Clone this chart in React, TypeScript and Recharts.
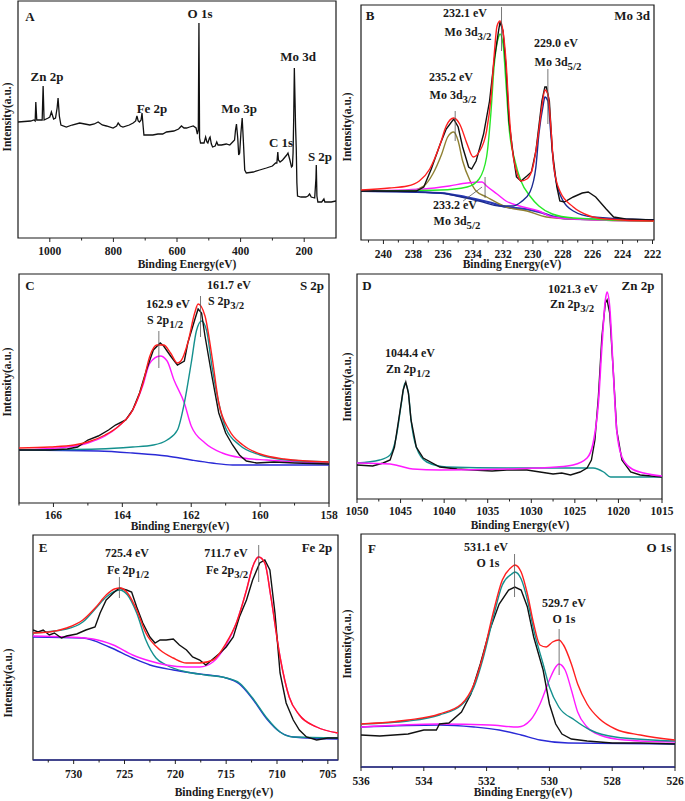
import React from 'react';
import { LineChart, Line, XAxis, YAxis, ReferenceArea, ReferenceLine } from 'recharts';

type Pt = [number, number];

// A: survey spectrum (binding energy eV, intensity a.u.)
const surveyA: Pt[] = [
  [1100, 116], [1060, 117], [1050, 118], [1046, 117], [1044, 136], [1041, 118], [1032, 118], [1024, 118],
  [1021, 152], [1018, 118], [1005, 120], [1000, 121], [995, 126], [988, 119], [982, 120], [977, 130],
  [974, 140], [970, 122], [965, 113], [948, 111], [930, 113], [906, 115], [890, 114], [874, 113],
  [860, 114], [848, 116], [835, 113], [822, 112], [801, 110], [790, 112], [785, 115], [778, 112],
  [770, 111], [750, 113], [738, 115], [730, 117], [726, 122], [722, 117], [718, 116], [713, 118],
  [710, 125], [706, 110], [704, 103], [690, 103], [676, 103], [660, 104], [645, 104], [633, 106],
  [610, 107], [595, 109], [586, 112], [578, 110], [570, 110], [560, 111], [549, 112], [540, 110],
  [536, 104], [533, 108], [531, 215], [529, 100], [526, 95], [515, 95], [510, 101], [506, 96],
  [503, 95], [498, 100], [496, 101], [492, 94], [488, 91], [480, 92], [475, 96], [471, 93],
  [460, 93], [445, 94], [434, 93], [425, 96], [419, 98], [416, 108], [413, 114], [409, 100],
  [406, 83], [403, 85], [399, 105], [395, 120], [391, 95], [387, 68], [382, 65], [360, 66],
  [340, 68], [319, 70], [300, 72], [290, 75], [286, 75], [283, 86], [281, 78], [276, 76],
  [268, 78], [255, 83], [251, 85], [245, 78], [240, 71], [237, 72], [235, 85], [233, 120],
  [231, 170], [229, 140], [227, 110], [225, 90], [223, 55], [221, 42], [210, 41], [195, 41],
  [188, 42], [183, 44], [178, 41], [167, 40], [163, 60], [162, 73], [160, 42], [157, 36],
  [145, 36], [138, 39], [135, 36], [115, 36], [100, 37],
];

// B: Mo 3d
const moRaw: Pt[] = [
  [241.5, 49], [239.5, 49], [237.8, 49], [237.3, 53], [236.8, 71], [236.2, 96], [235.8, 111], [235.3, 121],
  [235.0, 113], [234.7, 93], [234.3, 73], [234.1, 71], [233.8, 79], [233.3, 106], [232.9, 139], [232.6, 179],
  [232.3, 209], [232.2, 218], [232.0, 209], [231.8, 173], [231.6, 119], [231.3, 83], [231.1, 63], [230.8, 59],
  [230.4, 64], [230.1, 68], [229.8, 89], [229.4, 139], [229.2, 153], [229.1, 153], [228.9, 139], [228.7, 89],
  [228.4, 53], [228.2, 39], [227.9, 38], [227.3, 43], [226.7, 47], [226.3, 48], [225.8, 43], [225.1, 31],
  [224.6, 23], [223.8, 21], [222.0, 20], [221.9, 20],
];
const moEnvelope: Pt[] = [
  [241.5, 50], [239.6, 52], [238.4, 54], [237.6, 59], [236.9, 71], [236.2, 96], [235.8, 114], [235.3, 122],
  [234.9, 116], [234.4, 96], [234.0, 83], [233.6, 88], [233.1, 109], [232.8, 143], [232.6, 183], [232.4, 214],
  [232.2, 219], [232.05, 213], [231.8, 179], [231.6, 129], [231.4, 93], [231.1, 69], [230.8, 59], [230.4, 61],
  [230.0, 73], [229.7, 99], [229.4, 133], [229.2, 150], [229.0, 146], [228.8, 113], [228.6, 73], [228.2, 49],
  [227.3, 33], [226.2, 24], [225.1, 21], [222, 19], [221.9, 19],
];
const mo232: Pt[] = [
  [241.5, 49], [236.2, 50], [234.4, 53], [233.6, 61], [233.1, 83], [232.8, 129], [232.6, 173], [232.3, 203],
  [232.2, 206], [232.0, 196], [231.8, 156], [231.6, 113], [231.2, 79], [230.8, 59], [230.2, 44], [229.6, 34],
  [228.7, 26], [227.3, 22], [222, 19], [221.9, 19],
];
const mo235: Pt[] = [
  [241.5, 49], [238.4, 49], [237.3, 54], [236.7, 66], [236.1, 86], [235.7, 103], [235.3, 108], [235.0, 99],
  [234.7, 79], [234.2, 59], [233.8, 49], [233.1, 43], [231.8, 33], [230.4, 29], [229.1, 23], [227.3, 21],
  [222, 19], [221.9, 19],
];
const mo233: Pt[] = [
  [241.5, 49], [237.3, 51], [235.6, 54], [234.4, 57], [233.4, 58], [233.1, 54], [232.4, 46], [231.8, 39],
  [230.9, 34], [229.6, 29], [228.7, 23], [227.3, 21], [222, 19], [221.9, 19],
];
const mo229: Pt[] = [
  [241.5, 49], [236.2, 47], [235.1, 44], [233.6, 39], [232.2, 34], [231.3, 34], [230.8, 38], [230.2, 48],
  [229.8, 73], [229.6, 106], [229.3, 136], [229.2, 143], [229.0, 139], [228.8, 106], [228.6, 73], [228.2, 46],
  [227.3, 29], [226.0, 23], [222, 20], [221.9, 20],
];
const moBackground: Pt[] = [
  [241.5, 49], [236.2, 47], [234.5, 43], [233, 38], [231.8, 33], [230.5, 31], [229.6, 28], [228.5, 23],
  [227.3, 21], [222, 20], [221.9, 20],
];

// C: S 2p
const sRaw: Pt[] = [
  [167, 53], [166.1, 53], [165.6, 54], [165.3, 56], [165.0, 63], [164.7, 67], [164.4, 73], [164.2, 78],
  [163.9, 83], [163.7, 93], [163.5, 110], [163.3, 133], [163.1, 153], [162.9, 160], [162.8, 157], [162.6, 147],
  [162.4, 138], [162.2, 142], [162.1, 160], [161.9, 183], [161.8, 194], [161.7, 190], [161.6, 167], [161.4, 127],
  [161.2, 90], [161.0, 70], [160.8, 58], [160.6, 48], [160.4, 42], [160.1, 40], [159.6, 41], [159.0, 40], [158, 39],
];
const sEnvelope: Pt[] = [
  [167, 55], [166.1, 56], [165.4, 58], [165.0, 61], [164.5, 68], [164.1, 77], [163.7, 93], [163.4, 120],
  [163.2, 147], [163.0, 158], [162.8, 158], [162.6, 150], [162.4, 140], [162.3, 142], [162.1, 160], [161.9, 190],
  [161.8, 199], [161.6, 187], [161.4, 147], [161.2, 100], [160.9, 73], [160.5, 58], [160.0, 49], [159.3, 44], [158, 41],
];
const s12: Pt[] = [
  [167, 53], [165.6, 56], [165.0, 60], [164.5, 67], [164.1, 77], [163.7, 93], [163.4, 118], [163.2, 140],
  [162.9, 147], [162.7, 142], [162.5, 123], [162.2, 100], [162.0, 77], [161.6, 60], [161.1, 50], [160.5, 45],
  [159.8, 43], [158, 40],
];
const s32: Pt[] = [
  [167, 53], [164.7, 54], [163.7, 56], [163.1, 58], [162.7, 63], [162.4, 73], [162.2, 100], [162.0, 140],
  [161.85, 172], [161.7, 182], [161.55, 172], [161.4, 137], [161.2, 100], [161.0, 75], [160.6, 58], [160.0, 48],
  [159.2, 43], [158, 41],
];
const sBackground: Pt[] = [
  [167, 53], [164.7, 52], [163.7, 50], [162.7, 47], [162.0, 43], [161.4, 40], [160.8, 38], [158, 38],
];

// D: Zn 2p
const znRaw: Pt[] = [
  [1050, 34], [1048.2, 33], [1047, 36], [1046.2, 39], [1045.7, 52], [1045.1, 86], [1044.7, 109], [1044.4, 117],
  [1044.1, 106], [1043.8, 79], [1043.2, 52], [1042.4, 41], [1040.5, 32], [1038.5, 30], [1036.7, 29], [1034.5, 28],
  [1032.8, 29], [1030.5, 29], [1029, 27], [1027.5, 25], [1026.5, 26], [1025.5, 24], [1024.4, 27], [1023.6, 31],
  [1023.1, 39], [1022.7, 59], [1022.3, 102], [1021.9, 162], [1021.5, 196], [1021.3, 199], [1021.0, 186],
  [1020.6, 129], [1020.2, 69], [1019.6, 39], [1018.6, 27], [1017.5, 24], [1015, 22],
];
const zn32: Pt[] = [
  [1050, 36], [1046.2, 35], [1045.1, 33], [1043.6, 30], [1040.5, 29], [1032.8, 30], [1027.1, 32], [1025.2, 34],
  [1023.6, 41], [1022.9, 56], [1022.3, 96], [1021.9, 152], [1021.5, 199], [1021.3, 207], [1021.0, 192],
  [1020.6, 129], [1020.2, 69], [1019.6, 42], [1018.6, 31], [1017.1, 26], [1015, 23],
];
const zn12: Pt[] = [
  [1050, 36], [1047.4, 39], [1046.2, 44], [1045.5, 62], [1044.9, 96], [1044.5, 116], [1044.1, 106], [1043.8, 79],
  [1043.2, 52], [1042, 37], [1039.7, 32], [1032.8, 31], [1025.2, 31], [1022.9, 31], [1021.7, 27], [1020.9, 22],
  [1020.2, 22], [1015, 22],
];

// E: Fe 2p
const feRaw: Pt[] = [
  [734, 130], [733.5, 128], [733, 130], [732.4, 125], [731.9, 127], [731.2, 122], [730.7, 124], [729.7, 126],
  [728.8, 130], [727.9, 133], [727.4, 147], [726.8, 160], [726.1, 167], [725.5, 172], [724.8, 170], [724.3, 168],
  [723.8, 153], [723.2, 137], [722.5, 123], [722.0, 117], [721.5, 120], [720.9, 120], [720.2, 121], [719.6, 115],
  [718.9, 110], [718.3, 103], [717.6, 100], [717.0, 95], [716.3, 101], [715.6, 107], [715.0, 113], [714.3, 123],
  [713.7, 143], [713.0, 160], [712.4, 180], [711.7, 197], [711.2, 200], [710.7, 190], [710.2, 147], [709.7, 87],
  [709.1, 57], [708.4, 40], [707.8, 30], [707.1, 23], [706.1, 20], [705, 22], [704, 22],
];
const feEnvelope: Pt[] = [
  [734, 127], [732.4, 128], [730.7, 132], [729.1, 140], [727.8, 153], [726.8, 165], [726.0, 171], [725.4, 172],
  [724.7, 167], [723.8, 150], [722.9, 127], [721.5, 110], [720.2, 102], [718.9, 97], [717.6, 97], [716.3, 100],
  [715.0, 117], [714.0, 137], [713.0, 170], [712.4, 193], [711.8, 203], [711.2, 197], [710.6, 163], [709.7, 103],
  [708.8, 63], [707.8, 45], [706.1, 33], [704, 27],
];
const fe32: Pt[] = [
  [734, 124], [730.7, 123], [728.1, 121], [726.1, 115], [724.2, 105], [722.5, 99], [720.9, 95], [718.9, 93],
  [717.6, 93], [716.3, 98], [715.0, 115], [714.0, 137], [713.0, 170], [712.4, 193], [711.8, 203], [711.2, 197],
  [710.6, 163], [709.7, 103], [708.8, 63], [707.8, 45], [706.1, 33], [704, 27],
];
const fe12: Pt[] = [
  [734, 127], [730.7, 131], [729.1, 138], [727.8, 152], [726.8, 163], [725.5, 170], [724.7, 165], [723.8, 147],
  [722.9, 120], [721.9, 102], [720.9, 95], [718.9, 88], [717.0, 85], [715.0, 82], [713.7, 77], [712.4, 62],
  [711.0, 42], [709.7, 28], [708.4, 23], [704, 22],
];
const feBackground: Pt[] = [
  [734, 123], [729.1, 122], [726.5, 113], [724.2, 102], [722.5, 95], [720.2, 90], [717.6, 86], [715.0, 82],
  [713.7, 76], [712.4, 61], [711.0, 41], [709.7, 28], [708.4, 23], [704, 21],
];

// F: O 1s
const oRaw: Pt[] = [
  [536, 32], [535.4, 31], [534.5, 33], [534.0, 37], [533.6, 37], [533.5, 43], [533.2, 44], [532.8, 55],
  [532.5, 73], [532.2, 103], [531.9, 137], [531.6, 163], [531.3, 177], [531.1, 180], [530.9, 177], [530.7, 160],
  [530.5, 130], [530.2, 97], [530.0, 63], [529.8, 43], [529.6, 33], [529.3, 28], [528.8, 26], [528.0, 24],
  [527.1, 24], [526, 23],
];
const oEnvelope: Pt[] = [
  [536, 43], [534.5, 47], [533.5, 53], [532.8, 63], [532.4, 83], [532.1, 113], [531.8, 153], [531.5, 187],
  [531.2, 200], [531.1, 202], [530.9, 195], [530.7, 173], [530.5, 143], [530.3, 122], [530.1, 120], [529.9, 125],
  [529.7, 127], [529.55, 122], [529.3, 103], [529.1, 83], [528.8, 63], [528.4, 48], [527.9, 38], [527.1, 32], [526, 27],
];
const o531: Pt[] = [
  [536, 43], [534.5, 46], [533.5, 52], [532.8, 62], [532.4, 80], [532.1, 110], [531.8, 148], [531.5, 182],
  [531.2, 193], [531.1, 195], [530.9, 188], [530.7, 167], [530.5, 137], [530.2, 103], [530.0, 80], [529.7, 60],
  [529.2, 47], [528.7, 37], [527.9, 30], [526, 26],
];
const o529: Pt[] = [
  [536, 40], [533.5, 43], [531.9, 42], [531.0, 40], [530.6, 47], [530.3, 63], [530.0, 87], [529.8, 100],
  [529.7, 103], [529.5, 97], [529.3, 77], [529.1, 55], [528.8, 40], [528.4, 32], [527.6, 27], [526, 25],
];
const oBackground: Pt[] = [
  [536, 40], [533.5, 42], [532.4, 40], [531.6, 37], [530.9, 32], [530.3, 27], [529.4, 24], [526, 23],
];

const RED = '#ff1f1f';
const MAGENTA = '#ff1aff';
const TEAL = '#14908e';
const BLUE = '#2a2ad6';
const FONT = '"Liberation Serif", "Times New Roman", serif';

type Series = { pts: Pt[]; color: string; width?: number; raw?: boolean };
type Marker = { x1: number; y1: number; x2: number; y2: number };

const toRows = (pts: Pt[]) => pts.map(([e, v]) => ({ e, v }));

type PanelProps = {
  left: number;
  top: number;
  width: number;
  height: number;
  xDomain: [number, number];
  majors: number[];
  minors: number[];
  series: Series[];
  markers?: Marker[];
  labelDy: number;
  bottomColor?: string;
};

const PADX = 18;
const PADY = 4;

function Panel(p: PanelProps) {
  const ticks = [...p.majors, ...p.minors].sort((a, b) => a - b);
  const renderTick = (props: any) => {
    const { x, y, payload } = props;
    const major = p.majors.includes(payload.value);
    return (
      <g>
        <line x1={x} x2={x} y1={y} y2={y + (major ? 4 : 2.5)} stroke="#222" strokeWidth={1} />
        {major && (
          <text x={x} y={y + p.labelDy} textAnchor="middle" fontFamily={FONT} fontWeight="bold" fontSize={11.5} fill="#1a1a1a">
            {payload.value}
          </text>
        )}
      </g>
    );
  };
  return (
    <div style={{ position: 'absolute', left: p.left - PADX, top: p.top - PADY }}>
      <LineChart
        width={p.width + 2 * PADX}
        height={p.height + PADY + 28}
        margin={{ top: PADY, right: PADX, bottom: 0, left: PADX }}
      >
        <XAxis
          type="number"
          dataKey="e"
          domain={[Math.min(...p.xDomain), Math.max(...p.xDomain)]}
          reversed
          allowDataOverflow
          ticks={ticks}
          interval={0}
          tickSize={0}
          tickMargin={0}
          tickLine={false}
          axisLine={p.bottomColor ? { stroke: p.bottomColor, strokeWidth: 1.4 } : false}
          height={28}
          tick={renderTick}
        />
        <YAxis type="number" domain={[0, p.height]} hide allowDataOverflow />
        <ReferenceArea
          x1={p.xDomain[0]}
          x2={p.xDomain[1]}
          y1={0}
          y2={p.height}
          fill="none"
          stroke="#1a1a1a"
          strokeWidth={1.2}
          ifOverflow="visible"
        />
        {p.series.map((s, i) => (
          <Line
            key={i}
            data={toRows(s.pts)}
            dataKey="v"
            type={s.raw ? 'linear' : 'monotone'}
            stroke={s.color}
            strokeWidth={s.width ?? 1.4}
            dot={false}
            activeDot={false}
            isAnimationActive={false}
          />
        ))}
        {(p.markers ?? []).map((m, i) => (
          <ReferenceLine
            key={'m' + i}
            segment={[{ x: m.x1, y: m.y1 }, { x: m.x2, y: m.y2 }]}
            stroke="#555"
            strokeWidth={0.8}
            ifOverflow="visible"
          />
        ))}
      </LineChart>
    </div>
  );
}

function Note({ x, y, size = 12, children }: { x: number; y: number; size?: number; children: React.ReactNode }) {
  return (
    <div
      style={{
        position: 'absolute',
        left: x,
        top: y,
        transform: 'translate(-50%, -50%)',
        fontFamily: FONT,
        fontWeight: 'bold',
        fontSize: size,
        lineHeight: 1,
        whiteSpace: 'nowrap',
        color: '#1a1a1a',
      }}
    >
      {children}
    </div>
  );
}

const Sub = ({ children }: { children: React.ReactNode }) => (
  <span style={{ position: 'relative', top: '0.4em', fontSize: '0.9em' }}>{children}</span>
);

function YLabel({ x, y }: { x: number; y: number }) {
  return (
    <div
      style={{
        position: 'absolute',
        left: x,
        top: y,
        transform: 'translate(-50%, -50%) rotate(-90deg)',
        fontFamily: FONT,
        fontWeight: 'bold',
        fontSize: 11.5,
        whiteSpace: 'nowrap',
        lineHeight: 1,
        color: '#1a1a1a',
      }}
    >
      Intensity(a.u.)
    </div>
  );
}

const XTitle = ({ x, y }: { x: number; y: number }) => (
  <Note x={x} y={y} size={11.5}>Binding Energy(eV)</Note>
);

export default function App() {
  return (
    <div style={{ position: 'absolute', left: 0, top: 0, width: 685, height: 801, background: '#fff', overflow: 'hidden' }}>
      <Panel
        left={18} top={1} width={318} height={237}
        xDomain={[1100, 100]}
        majors={[200, 400, 600, 800, 1000]} minors={[300, 500, 700, 900]}
        series={[{ pts: surveyA, color: '#111', width: 1.3, raw: true }]}
        labelDy={16.5}
      />
      <Panel
        left={361} top={5} width={293} height={235}
        xDomain={[241.5, 221.9]}
        majors={[222, 224, 226, 228, 230, 232, 234, 236, 238, 240]}
        minors={[223, 225, 227, 229, 231, 233, 235, 237, 239, 241]}
        series={[
          { pts: moBackground, color: '#2b3bb5', width: 2.2 },
          { pts: mo235, color: '#8f8032' },
          { pts: mo233, color: MAGENTA },
          { pts: mo232, color: '#27e827' },
          { pts: mo229, color: '#1b2a8f' },
          { pts: moRaw, color: '#111', raw: true },
          { pts: moEnvelope, color: RED },
        ]}
        markers={[
          { x1: 232.1, y1: 233, x2: 232.1, y2: 189 },
          { x1: 229.0, y1: 171, x2: 229.0, y2: 116 },
          { x1: 235.2, y1: 129, x2: 235.2, y2: 99 },
          { x1: 233.2, y1: 63, x2: 233.2, y2: 42 },
          { x1: 234.67, y1: 39, x2: 233.4, y2: 53 },
        ]}
        labelDy={17.5}
      />
      <Panel
        left={19} top={274} width={310} height={229}
        xDomain={[167, 158]}
        majors={[158, 160, 162, 164, 166]} minors={[159, 161, 163, 165, 167]}
        series={[
          { pts: sBackground, color: BLUE },
          { pts: s12, color: MAGENTA },
          { pts: s32, color: TEAL },
          { pts: sRaw, color: '#111', raw: true },
          { pts: sEnvelope, color: RED },
        ]}
        markers={[
          { x1: 161.73, y1: 207, x2: 161.73, y2: 166 },
          { x1: 162.94, y1: 172, x2: 162.94, y2: 135 },
        ]}
        labelDy={15.5}
      />
      <Panel
        left={357} top={274} width={305} height={225}
        xDomain={[1050, 1015]}
        majors={[1015, 1020, 1025, 1030, 1035, 1040, 1045, 1050]}
        minors={[1017.5, 1022.5, 1027.5, 1032.5, 1037.5, 1042.5, 1047.5]}
        series={[
          { pts: zn12, color: TEAL },
          { pts: znRaw, color: '#111', raw: true },
          { pts: zn32, color: MAGENTA, width: 1.6 },
        ]}
        labelDy={16}
      />
      <Panel
        left={33} top={535} width={305} height={225}
        xDomain={[734, 704]}
        majors={[705, 710, 715, 720, 725, 730]}
        minors={[707.5, 712.5, 717.5, 722.5, 727.5, 732.5]}
        series={[
          { pts: feBackground, color: BLUE },
          { pts: fe12, color: TEAL },
          { pts: fe32, color: MAGENTA },
          { pts: feRaw, color: '#111', raw: true },
          { pts: feEnvelope, color: RED },
        ]}
        markers={[
          { x1: 725.5, y1: 183, x2: 725.5, y2: 162 },
          { x1: 711.8, y1: 215, x2: 711.8, y2: 178 },
        ]}
        labelDy={18}
        bottomColor="#2b2f8f"
      />
      <Panel
        left={361} top={534} width={314} height={233}
        xDomain={[536, 526]}
        majors={[526, 528, 530, 532, 534, 536]} minors={[527, 529, 531, 533, 535]}
        series={[
          { pts: oBackground, color: BLUE },
          { pts: o529, color: MAGENTA },
          { pts: oRaw, color: '#111', raw: true },
          { pts: o531, color: TEAL },
          { pts: oEnvelope, color: RED },
        ]}
        markers={[
          { x1: 531.11, y1: 213, x2: 531.11, y2: 170 },
          { x1: 529.69, y1: 138, x2: 529.69, y2: 92 },
        ]}
        labelDy={18}
        bottomColor="#2b2f8f"
      />

      {/* axis titles */}
      <XTitle x={187} y={265} />
      <XTitle x={512} y={265} />
      <XTitle x={180} y={527} />
      <XTitle x={520} y={526} />
      <XTitle x={224} y={793} />
      <XTitle x={523} y={793} />
      <YLabel x={8} y={117} />
      <YLabel x={348} y={127} />
      <YLabel x={8} y={382} />
      <YLabel x={348} y={387} />
      <YLabel x={9} y={683} />
      <YLabel x={348} y={644} />

      {/* A */}
      <Note x={30} y={16} size={13}>A</Note>
      <Note x={47} y={76} size={13}>Zn 2p</Note>
      <Note x={152} y={108} size={13}>Fe 2p</Note>
      <Note x={200} y={13} size={13}>O 1s</Note>
      <Note x={239} y={108} size={13}>Mo 3p</Note>
      <Note x={298} y={56} size={13}>Mo 3d</Note>
      <Note x={281} y={142} size={13}>C 1s</Note>
      <Note x={320} y={156} size={13}>S 2p</Note>

      {/* B */}
      <Note x={370} y={15} size={13}>B</Note>
      <Note x={632} y={15} size={13}>Mo 3d</Note>
      <Note x={465} y={13}>232.1 eV</Note>
      <Note x={468} y={32}>Mo 3d<Sub>3/2</Sub></Note>
      <Note x={556} y={43}>229.0 eV</Note>
      <Note x={558} y={62}>Mo 3d<Sub>5/2</Sub></Note>
      <Note x={451} y={77}>235.2 eV</Note>
      <Note x={453} y={95}>Mo 3d<Sub>3/2</Sub></Note>
      <Note x={455} y={205}>233.2 eV</Note>
      <Note x={457} y={221}>Mo 3d<Sub>5/2</Sub></Note>

      {/* C */}
      <Note x={30} y={285} size={13}>C</Note>
      <Note x={312} y={285} size={13}>S 2p</Note>
      <Note x={229} y={285}>161.7 eV</Note>
      <Note x={226} y={301}>S 2p<Sub>3/2</Sub></Note>
      <Note x={168} y={304}>162.9 eV</Note>
      <Note x={165} y={320}>S 2p<Sub>1/2</Sub></Note>

      {/* D */}
      <Note x={367} y={285} size={13}>D</Note>
      <Note x={638} y={285} size={13}>Zn 2p</Note>
      <Note x={573} y={289}>1021.3 eV</Note>
      <Note x={572} y={304}>Zn 2p<Sub>3/2</Sub></Note>
      <Note x={410} y={353}>1044.4 eV</Note>
      <Note x={408} y={369}>Zn 2p<Sub>1/2</Sub></Note>

      {/* E */}
      <Note x={43} y={547} size={13}>E</Note>
      <Note x={317} y={547} size={13}>Fe 2p</Note>
      <Note x={127} y={553}>725.4 eV</Note>
      <Note x={128} y={570}>Fe 2p<Sub>1/2</Sub></Note>
      <Note x={226} y={553}>711.7 eV</Note>
      <Note x={227} y={570}>Fe 2p<Sub>3/2</Sub></Note>

      {/* F */}
      <Note x={372} y={548} size={13}>F</Note>
      <Note x={659} y={547} size={13}>O 1s</Note>
      <Note x={486} y={547}>531.1 eV</Note>
      <Note x={488} y={563}>O 1s</Note>
      <Note x={564} y={603}>529.7 eV</Note>
      <Note x={564} y={619}>O 1s</Note>
    </div>
  );
}
